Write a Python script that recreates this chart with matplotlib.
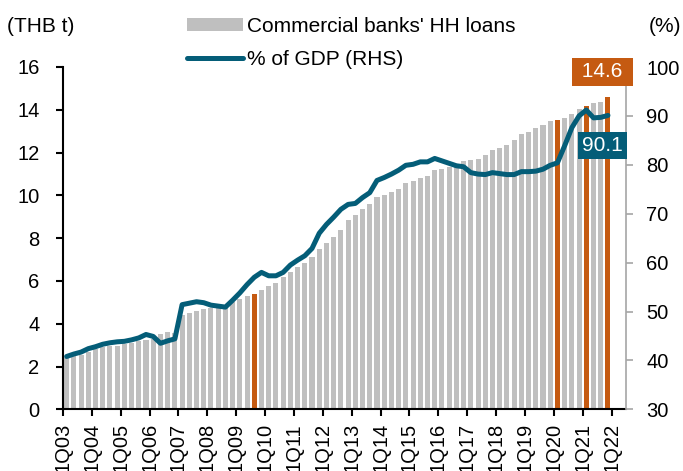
import numpy as np
import matplotlib.pyplot as plt

plt.rcParams['font.family'] = ['Liberation Sans', 'DejaVu Sans']

# quarterly data, 1Q03 .. 4Q21
loans = [2.39, 2.47, 2.55, 2.70, 2.81, 2.89, 2.94, 2.98, 3.03, 3.09,
         3.17, 3.25, 3.28, 3.50, 3.62, 3.55, 4.42, 4.50, 4.58, 4.70,
         4.73, 4.75, 4.81, 5.01, 5.17, 5.30, 5.40, 5.59, 5.75, 5.92,
         6.17, 6.43, 6.66, 6.85, 7.13, 7.50, 7.78, 8.05, 8.37, 8.87,
         9.08, 9.38, 9.58, 9.92, 10.00, 10.16, 10.31, 10.56, 10.67, 10.81,
         10.91, 11.17, 11.23, 11.33, 11.36, 11.61, 11.64, 11.69, 11.88, 12.11,
         12.23, 12.37, 12.58, 12.86, 12.97, 13.13, 13.27, 13.48, 13.52, 13.61,
         13.80, 14.03, 14.17, 14.34, 14.37, 14.62]
pct_gdp = [40.8, 41.3, 41.7, 42.4, 42.8, 43.3, 43.6, 43.8, 43.9, 44.2,
           44.6, 45.3, 44.9, 43.5, 44.0, 44.4, 51.4, 51.7, 52.0, 51.8,
           51.3, 51.1, 50.9, 52.3, 53.8, 55.5, 57.0, 58.0, 57.3, 57.3,
           58.0, 59.5, 60.5, 61.4, 62.9, 66.0, 67.8, 69.3, 70.9, 71.9,
           72.1, 73.3, 74.3, 76.8, 77.4, 78.1, 78.9, 79.9, 80.1, 80.6,
           80.6, 81.3, 80.8, 80.3, 79.8, 79.6, 78.4, 78.1, 78.0, 78.4,
           78.2, 78.0, 78.0, 78.6, 78.6, 78.7, 79.1, 79.9, 80.4, 83.9,
           87.6, 90.0, 91.2, 89.6, 89.7, 90.1]
quarters = [f'{q}Q{y:02d}' for y in range(3, 22) for q in range(1, 5)]
highlight = ['3Q09', '1Q20', '1Q21', '4Q21']
tick_labels = ['1Q03', '1Q04', '1Q05', '1Q06', '1Q07', '1Q08', '1Q09', '1Q10',
               '1Q11', '1Q12', '1Q13', '1Q14', '1Q15', '1Q16', '1Q17', '1Q18',
               '1Q19', '1Q20', '1Q21', '1Q22']

GREY = '#BFBFBF'
ORANGE = '#C55A11'
TEAL = '#045D78'
FS = 15

fig = plt.figure(figsize=(6.83, 4.71), dpi=100)
ax = fig.add_axes([63 / 683, 1 - 409.3 / 471, (626 - 63) / 683, (409.3 - 67) / 471])
ax2 = ax.twinx()

x = np.arange(len(loans))
colors = [ORANGE if q in highlight else GREY for q in quarters]
bars = ax.bar(x, loans, width=0.7, color=colors, label="Commercial banks' HH loans")
line, = ax2.plot(x, pct_gdp, color=TEAL, lw=3.6, solid_capstyle='round',
                 label='% of GDP (RHS)')

ax.set_xlim(-0.5, 77.5)
ax.set_ylim(0, 16)
ax.set_yticks(range(0, 17, 2))
ax2.set_ylim(30, 100)
ax2.set_yticks(range(30, 101, 10))

ax.set_xticks([4 * k - 0.5 for k in range(len(tick_labels))])
ax.set_xticklabels(tick_labels, rotation=90, va='top')

for a in (ax, ax2):
    a.spines['top'].set_visible(False)
ax.spines['right'].set_visible(False)
ax2.spines['left'].set_visible(False)
ax2.spines['bottom'].set_visible(False)
ax2.spines['right'].set_color('#A6A6A6')
ax2.spines['right'].set_linewidth(1.2)
ax.spines['left'].set_linewidth(1.5)
ax.spines['bottom'].set_linewidth(1.5)

ax.tick_params(axis='y', labelsize=14.5, length=5, width=1.5, pad=12)
ax.tick_params(axis='x', labelsize=14.5, length=5, width=1.5, pad=5)
ax2.tick_params(axis='y', labelsize=14.5, length=5, width=1.2, color='#A6A6A6', pad=9.5)

fig.text(7 / 683, 1 - 26 / 471, '(THB t)', fontsize=FS, va='center', ha='left')
fig.text(681 / 683, 1 - 26 / 471, '(%)', fontsize=FS, va='center', ha='right')

fig.legend(handles=[bars, line], loc='upper left', bbox_to_anchor=(187 / 683, 1 - 17 / 471),
           frameon=False, fontsize=FS, borderpad=0, borderaxespad=0,
           handlelength=2.67, handleheight=0.6, handletextpad=0.2, labelspacing=0.69)

# value boxes drawn on the top axes so they cover the right spine
ax2.text(74.25, 15.77, ' 14.6 ', transform=ax.transData, fontsize=FS, color='white',
         ha='center', va='center', zorder=10, clip_on=False,
         bbox=dict(boxstyle='square,pad=0.2', fc=ORANGE, ec='none'))
ax2.text(74.25, 84.0, '90.1', fontsize=FS, color='white', ha='center', va='center',
         zorder=10, clip_on=False,
         bbox=dict(boxstyle='square,pad=0.2', fc=TEAL, ec='none'))

fig.savefig('out.png', dpi=100)
